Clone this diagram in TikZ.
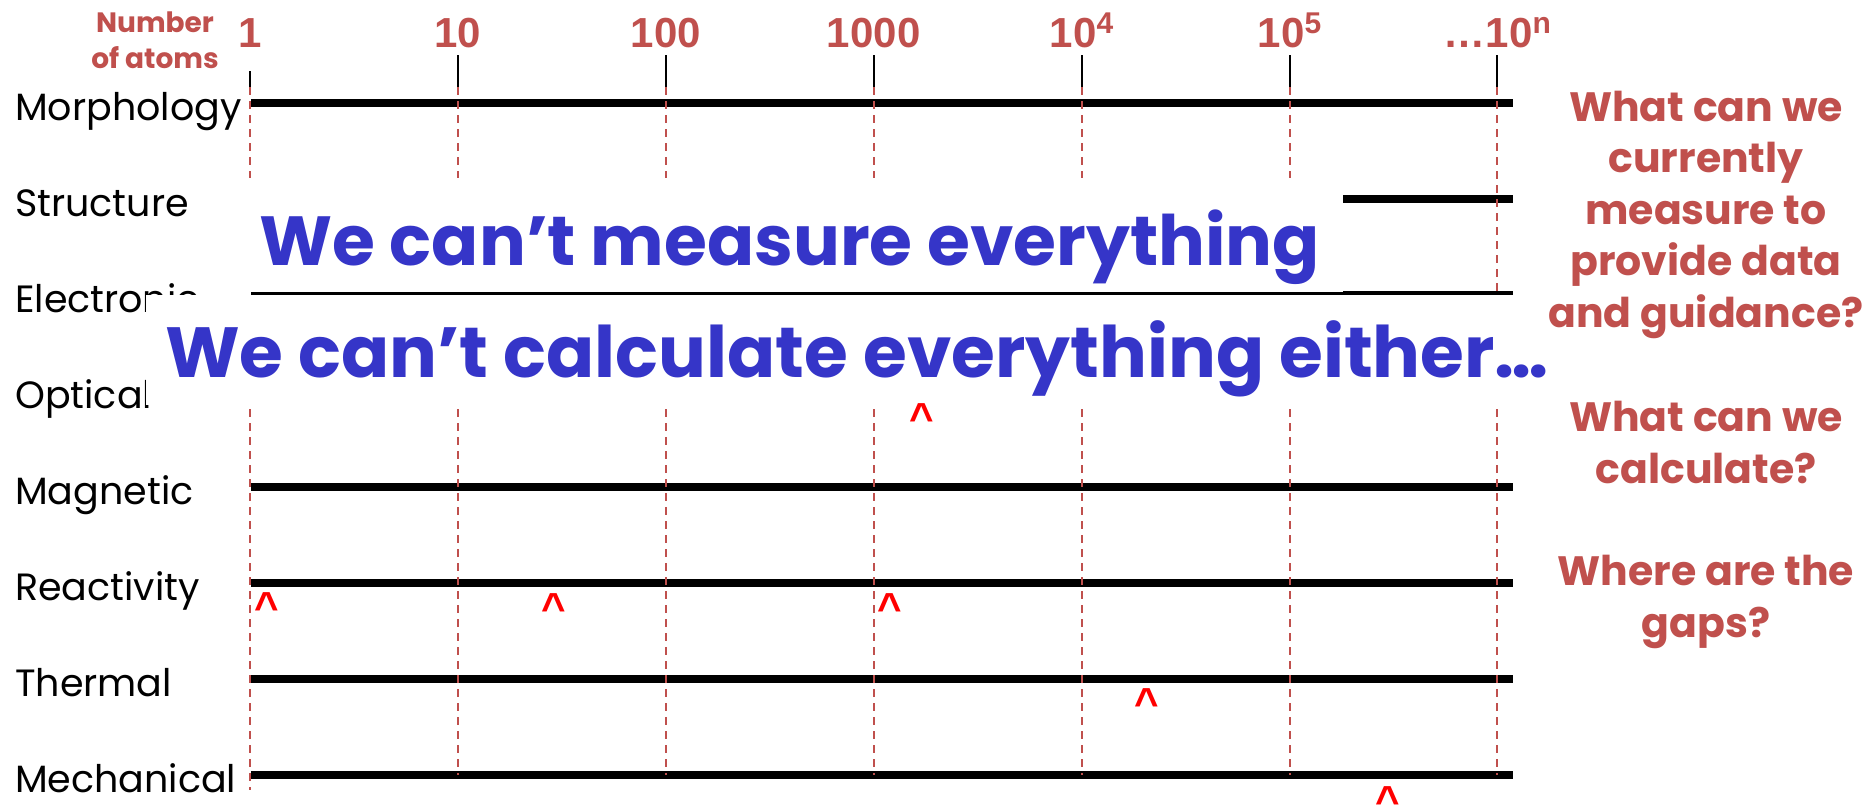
\documentclass[tikz,border=0pt]{standalone}
\usepackage{fontspec}
\setmainfont{Liberation Sans}
\newfontfamily\handfont{Poppins}
\usetikzlibrary{positioning}
\definecolor{scalered}{HTML}{C0504D}
\definecolor{claimblue}{HTML}{3535C8}
\definecolor{gapred}{HTML}{FF0000}
\newcommand{\powlab}[1]{\raisebox{14pt}{\fontsize{30}{30}\selectfont #1}}
\tikzset{
  rowline/.style={draw=black,line width=8pt},
  tickline/.style={draw=black,line width=2pt},
  gridline/.style={draw=scalered,line width=2pt,dash pattern=on 8pt off 6pt},
  scalelabel/.style={font=\fontsize{42}{42}\selectfont\bfseries,text=scalered,inner sep=0pt,anchor=base},
  atomslabel/.style={font=\handfont\bfseries\fontsize{28}{36}\selectfont,text=scalered,align=center,inner sep=0pt,anchor=base},
  rowlabel/.style={font=\handfont\fontsize{38}{38}\selectfont,inner sep=0pt,anchor=base west},
  question/.style={font=\handfont\bfseries\fontsize{41}{51.5}\selectfont,text=scalered,align=center,inner sep=0pt,anchor=base},
  claim/.style={text=claimblue,fill=white,inner sep=0pt,anchor=base},
  gapmark/.style={font=\fontsize{42}{42}\selectfont\bfseries,text=gapred,inner sep=0pt,anchor=base},
}

\begin{document}
\begin{tikzpicture}[x=1pt,y=-1pt]
  \path[use as bounding box,fill=white] (0,0) rectangle (1876,804);

  % ---- property rows ----
  \foreach \k/\name in {0/Morphology,1/Structure,2/Electronic,3/Optical,4/Magnetic,5/Reactivity,6/Thermal,7/Mechanical}{
    \pgfmathsetmacro{\ry}{103+96*\k}
    \coordinate (rs\k) at (251,\ry);
    \coordinate (re\k) at (1513,\ry);
    \draw[rowline] (rs\k) -- (re\k);
    \node[rowlabel] (lab\k) at (15,\ry+17) {\name};
  }

  % ---- scale: ticks, dashed guides, numbers ----
  \foreach \i/\ty/\by/\txt in {0/71/790/1,1/55/775/10,2/55/775/100,3/55/775/1000,
      4/55/775/10\powlab{4},5/55/775/10\powlab{5},6/55/775/…10\powlab{n}}{
    \pgfmathsetmacro{\tx}{250+207.9*\i}
    \coordinate (tt\i) at (\tx,\ty);
    \coordinate (tm\i) at (\tx,87);
    \coordinate (tb\i) at (\tx,\by);
    \draw[tickline] (tt\i) -- (tm\i);
    \draw[gridline] (tm\i) -- (tb\i);
    \node[scalelabel] (num\i) at (\tx,47) {\txt};
  }
  % base anchor = last line
  \node[atomslabel] (atoms) at (155,68) {Number\\of atoms};

  % ---- the two claims, on white ----
  \node[claim,font=\handfont\bfseries\fontsize{69.5}{70}\selectfont,minimum width=1107pt,text height=87pt,text depth=27pt]
    (measure) at (789.5,265) {We can’t measure everything};
  \node[claim,font=\handfont\bfseries\fontsize{71}{72}\selectfont,minimum width=1422pt,text height=82pt,text depth=28pt]
    (calc) at (857,377) {We can’t calculate everything either…};

  % ---- gaps ----
  \foreach \j/\cx/\cy in {0/922/410,1/267/599,2/554/600,3/890/600,4/1147/695,5/1388/793}{
    \node[gapmark] (gap\j) at (\cx,\cy+22) {\textasciicircum};
  }

  % ---- questions on the right ----
  \node[question] (qmeasure) at (1706,327) {What can we\\currently\\measure to\\provide data\\and guidance?};
  \node[question] (qcalc) at (1706,483) {What can we\\calculate?};
  \node[question] (qgaps) at (1706,637) {Where are the\\gaps?};
\end{tikzpicture}
\end{document}
